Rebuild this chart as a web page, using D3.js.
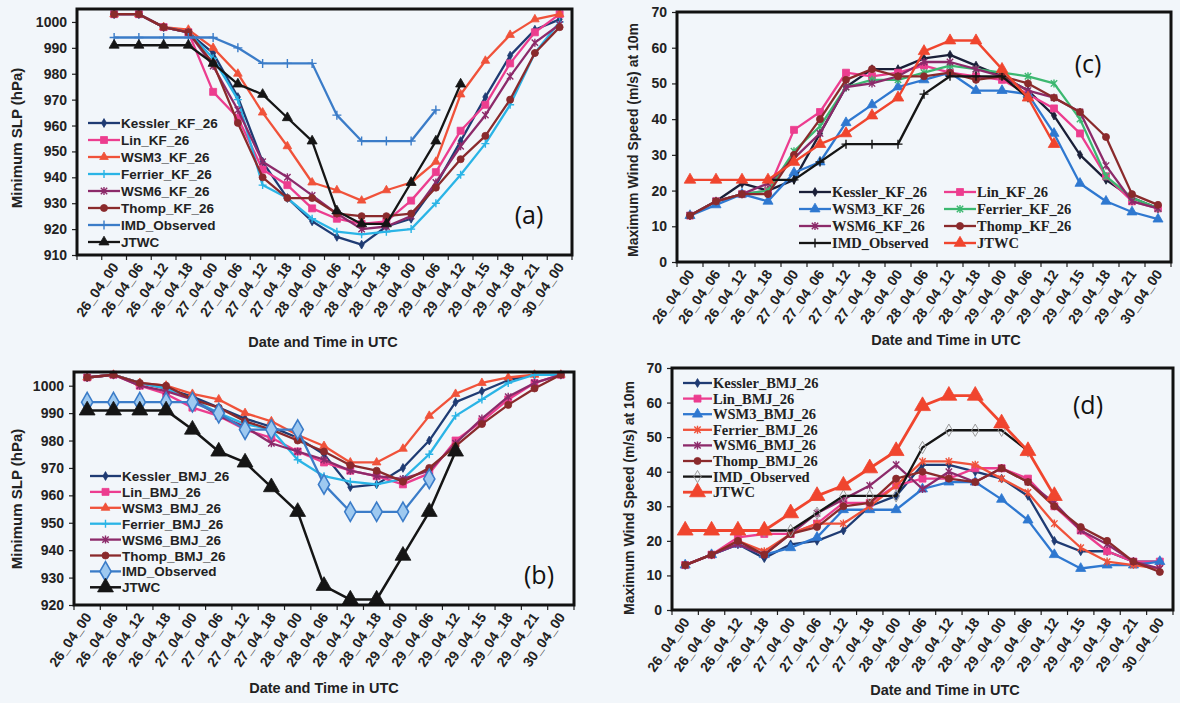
<!DOCTYPE html>
<html><head><meta charset="utf-8">
<script src="https://cdn.jsdelivr.net/npm/d3@7"></script>
<style>
html,body{margin:0;padding:0;background:#f2f6fa;}
svg{display:block;}
</style></head>
<body>
<svg id="chart" width="1180" height="703"></svg>
<script>
// ---------- categories / tick labels ----------
const timeLabels = ["26_04_00","26_04_06","26_04_12","26_04_18","27_04_00","27_04_06","27_04_12","27_04_18","28_04_00","28_04_06","28_04_12","28_04_18","29_04_00","29_04_06","29_04_12","29_04_15","29_04_18","29_04_21","30_04_00"];
const slpTicksA = [910,920,930,940,950,960,970,980,990,1000];
const slpTicksB = [920,930,940,950,960,970,980,990,1000];
const windTicks = [0,10,20,30,40,50,60,70];

// ---------- (a) Minimum SLP, KF ----------
const kesslerKF_slp = [1003,1003,998,996,988,971,946,932,923,917,914,921,924,937,954,971,987,997,1001];
const linKF_slp     = [1003,1003,998,996,973,963,943,937,928,924,922,923,931,942,958,968,984,996,1003];
const wsm3KF_slp    = [1003,1003,998,997,990,980,965,952,938,935,931,935,938,946,972,985,995,1001,1003];
const ferrierKF_slp = [1003,1003,998,996,986,970,937,932,924,919,918,919,920,930,941,953,968,988,1000];
const wsm6KF_slp    = [1003,1003,998,996,983,966,946,940,933,926,920,921,925,938,952,964,979,992,999];
const thompKF_slp   = [1003,1003,998,996,984,961,940,932,932,926,925,925,926,936,947,956,970,988,998];
// ---------- (b) Minimum SLP, BMJ ----------
const kesslerBMJ_slp = [1003,1004,1001,999,996,992,988,985,981,975,963,964,970,980,994,998,1002,1004,1004];
const linBMJ_slp     = [1003,1004,1000,997,992,989,984,981,976,972,969,967,964,968,980,987,995,1001,1004];
const wsm3BMJ_slp    = [1003,1004,1001,1000,997,995,990,987,982,978,972,972,977,989,997,1001,1003,1004,1004];
const ferrierBMJ_slp = [1003,1004,1001,999,995,990,986,984,973,967,965,964,966,975,989,995,1001,1004,1004];
const wsm6BMJ_slp    = [1003,1004,1000,998,995,989,985,979,976,973,969,967,966,969,979,988,996,1001,1004];
const thompBMJ_slp   = [1003,1004,1001,1000,995,992,987,984,980,976,971,969,965,970,978,986,993,999,1004];
// observed SLP
const imd_slp  = [994,994,994,994,994,990,984,984,984,964,954,954,954,966];
const jtwc_slp = [991,991,991,991,984,976,972,963,954,927,922,922,938,954,976];

// ---------- (c) Max wind, KF ----------
const kesslerKF_ws = [13,17,22,20,23,36,49,54,54,57,58,55,52,48,41,30,23,18,15];
const linKF_ws     = [13,17,19,20,37,42,53,52,53,55,53,52,51,47,43,36,24,17,15];
const wsm3KF_ws    = [13,16,19,17,25,28,39,44,49,51,53,48,48,47,36,22,17,14,12];
const ferrierKF_ws = [13,17,19,20,31,38,49,51,51,53,55,54,53,52,50,40,24,18,15];
const wsm6KF_ws    = [13,17,19,22,29,36,49,50,52,56,56,54,52,48,46,42,27,17,15];
const thompKF_ws   = [13,17,19,19,30,40,51,54,52,52,53,51,52,50,46,42,35,19,16];
// ---------- (d) Max wind, BMJ ----------
const kesslerBMJ_ws = [13,16,19,15,19,20,23,30,33,42,42,40,38,33,20,17,17,14,14];
const linBMJ_ws     = [13,16,21,22,22,25,31,31,36,38,38,41,41,38,30,23,17,14,14];
const wsm3BMJ_ws    = [13,16,19,16,18,21,29,29,29,35,37,37,32,26,16,12,13,13,14];
const ferrierBMJ_ws = [13,16,20,17,22,25,25,30,36,43,43,42,38,34,25,18,14,13,12];
const wsm6BMJ_ws    = [13,16,19,16,22,28,32,36,42,35,40,37,41,37,31,23,19,14,12];
const thompBMJ_ws   = [13,16,20,16,22,24,30,31,38,40,38,37,41,37,30,24,20,14,11];
// observed wind
const imd_ws  = [null,null,null,23,23,28,33,33,33,47,52,52,52,46];
const jtwc_ws = [23,23,23,23,28,33,36,41,46,59,62,62,54,46,33];

const svg = d3.select("#chart");
const SANS = "'Liberation Sans', Arial, sans-serif";
const SERIF = "'Liberation Serif', 'Times New Roman', serif";

function markerPath(type, s) {
  const h = s / 2;
  switch (type) {
    case "diamond": return d3.symbol(d3.symbolDiamond, s * s * 0.9)();
    case "square": return d3.symbol(d3.symbolSquare, s * s)();
    case "triangle": return d3.symbol(d3.symbolTriangle, s * s * 0.9)();
    case "circle": return d3.symbol(d3.symbolCircle, s * s * 0.8)();
    case "plus": return `M${-h},0H${h}M0,${-h}V${h}`;
    case "star": return `M${-h*0.8},${-h*0.8}L${h*0.8},${h*0.8}M${-h*0.8},${h*0.8}L${h*0.8},${-h*0.8}M0,${-h}V${h}`;
  }
  return "";
}
function drawMarker(g, m, cx, cy) {
  if (!m.type) return;
  const line = (m.type === "plus" || m.type === "star");
  g.append("path")
    .attr("d", markerPath(m.type, m.size))
    .attr("transform", `translate(${cx},${cy})`)
    .attr("fill", line ? "none" : (m.fill || m.color))
    .attr("stroke", m.stroke || m.color)
    .attr("stroke-width", line ? 1.4 : (m.sw || 0.8));
}

function drawPanel(p) {
  const g = svg.append("g");
  const x = d3.scaleBand().domain(p.cats).range([p.x0, p.x1]).padding(0);
  const y = d3.scaleLinear().domain(p.yDomain).range([p.y1, p.y0]);
  const bw = x.bandwidth();

  // y axis
  const ya = g.append("g").attr("transform", `translate(${p.x0},0)`)
    .call(d3.axisLeft(y).tickValues(p.yTicks).tickSize(5).tickPadding(5).tickFormat(d3.format("d")));
  ya.select(".domain").remove();
  ya.selectAll("line").attr("stroke", "#222").attr("stroke-width", 1.2);
  ya.selectAll("text").attr("font-family", SANS).attr("font-weight", "bold")
    .attr("font-size", 14).attr("fill", "#222");

  // x ticks between categories
  const nT = p.cats.length;
  for (let i = 0; i <= nT; i++) {
    const xx = x.range()[0] + i * x.step();
    g.append("line").attr("x1", xx).attr("x2", xx).attr("y1", p.y1).attr("y2", p.y1 + 5)
      .attr("stroke", "#222").attr("stroke-width", 1.2);
  }
  // x tick labels
  timeLabels.forEach(l => {
    const cx = x(l) + bw / 2;
    g.append("text").text(l)
      .attr("transform", `translate(${cx + 5},${p.y1 + 12}) rotate(-55)`)
      .attr("text-anchor", "end")
      .attr("font-family", SANS).attr("font-weight", "bold").attr("font-size", 14)
      .attr("fill", "#222");
  });

  // axis titles
  g.append("text").text(p.yTitle)
    .attr("transform", `translate(${p.yTitleX},${p.yTitleY}) rotate(-90)`)
    .attr("text-anchor", "middle")
    .attr("font-family", SANS).attr("font-weight", "bold").attr("font-size", p.yTitleSize || 15)
    .attr("fill", "#222");
  g.append("text").text("Date and Time in UTC")
    .attr("x", p.xTitleX).attr("y", p.xTitleY)
    .attr("text-anchor", "middle")
    .attr("font-family", SANS).attr("font-weight", "bold").attr("font-size", 14.5)
    .attr("fill", "#222");

  // series
  const lineGen = d3.line()
    .defined(d => d.v != null)
    .x(d => x(d.c) + bw / 2)
    .y(d => y(d.v));
  p.series.forEach(s => {
    const pts = s.values.map((v, i) => ({ c: timeLabels[i], v: v }));
    g.append("path").datum(pts).attr("d", lineGen)
      .attr("fill", "none").attr("stroke", s.color).attr("stroke-width", s.lw || 2.3)
      .attr("stroke-linejoin", "round");
    pts.filter(d => d.v != null).forEach(d => {
      drawMarker(g, s.marker, x(d.c) + bw / 2, y(d.v));
    });
  });

  // frame
  g.append("rect").attr("x", p.x0).attr("y", p.y0)
    .attr("width", p.x1 - p.x0).attr("height", p.y1 - p.y0)
    .attr("fill", "none").attr("stroke", "#111").attr("stroke-width", 3);

  // panel letter
  g.append("text").text(p.letter).attr("x", p.letterX).attr("y", p.letterY)
    .attr("text-anchor", "middle")
    .attr("font-family", "'Open Sans', 'DejaVu Sans', sans-serif").attr("font-size", 25)
    .attr("fill", "#111");

  // legend
  const L = p.legend;
  p.series.forEach((s, i) => {
    const col = L.cols ? i % L.cols : 0;
    const row = L.cols ? Math.floor(i / L.cols) : i;
    const lx = L.x + col * (L.colW || 0);
    const ly = L.y + row * L.dy;
    g.append("line").attr("x1", lx).attr("x2", lx + L.lineW).attr("y1", ly).attr("y2", ly)
      .attr("stroke", s.color).attr("stroke-width", s.lw || 2.3);
    drawMarker(g, s.marker, lx + L.lineW / 2, ly);
    g.append("text").text(s.name).attr("x", lx + L.lineW + 1).attr("y", ly + 5)
      .attr("font-family", L.font).attr("font-weight", "bold").attr("font-size", L.size)
      .attr("fill", "#222");
  });
}

const C = {
  kessler: "#1f3b73", kesslerDark: "#1a1f38", lin: "#ec3d8f", red: "#f0523a",
  cyan: "#2ab4e6", blue: "#2f78d0", green: "#3cb870", wsm6: "#8c2a6a",
  thomp: "#8a2a2c", imdBlue: "#3b7cc8", black: "#151515", jtwcRed: "#f0452e"
};

// (a)
drawPanel({
  cats: ["", ...timeLabels], x0: 77, x1: 572, y0: 9, y1: 255,
  yDomain: [910, 1005], yTicks: slpTicksA,
  yTitle: "Minimum SLP (hPa)", yTitleX: 22, yTitleY: 138,
  xTitleX: 323, xTitleY: 347, letter: "(a)", letterX: 529, letterY: 224,
  legend: { x: 88, y: 123, dy: 17, lineW: 32, font: SANS, size: 13.5 },
  series: [
    { name: "Kessler_KF_26", values: kesslerKF_slp, color: C.kessler, marker: { type: "diamond", size: 5, color: C.kessler } },
    { name: "Lin_KF_26", values: linKF_slp, color: C.lin, marker: { type: "square", size: 7, color: C.lin } },
    { name: "WSM3_KF_26", values: wsm3KF_slp, color: C.red, marker: { type: "triangle", size: 6, color: C.red } },
    { name: "Ferrier_KF_26", values: ferrierKF_slp, color: C.cyan, marker: { type: "plus", size: 8, color: C.cyan } },
    { name: "WSM6_KF_26", values: wsm6KF_slp, color: C.wsm6, marker: { type: "star", size: 8, color: C.wsm6 } },
    { name: "Thomp_KF_26", values: thompKF_slp, color: C.thomp, marker: { type: "circle", size: 7, color: C.thomp } },
    { name: "IMD_Observed", values: imd_slp, color: C.imdBlue, marker: { type: "plus", size: 9, color: C.imdBlue } },
    { name: "JTWC", values: jtwc_slp, color: C.black, marker: { type: "triangle", size: 7, color: C.black } }
  ]
});

// (b)
drawPanel({
  cats: timeLabels, x0: 74, x1: 574, y0: 372, y1: 605,
  yDomain: [920, 1005], yTicks: slpTicksB,
  yTitle: "Minimum SLP (hPa)", yTitleX: 22, yTitleY: 499,
  xTitleX: 324, xTitleY: 693, letter: "(b)", letterX: 539, letterY: 584,
  legend: { x: 90, y: 476, dy: 15.9, lineW: 31, font: SANS, size: 13.5 },
  series: [
    { name: "Kessler_BMJ_26", values: kesslerBMJ_slp, color: C.kessler, marker: { type: "diamond", size: 5, color: C.kessler } },
    { name: "Lin_BMJ_26", values: linBMJ_slp, color: C.lin, marker: { type: "square", size: 7, color: C.lin } },
    { name: "WSM3_BMJ_26", values: wsm3BMJ_slp, color: C.red, marker: { type: "triangle", size: 6, color: C.red } },
    { name: "Ferrier_BMJ_26", values: ferrierBMJ_slp, color: C.cyan, marker: { type: "plus", size: 8, color: C.cyan } },
    { name: "WSM6_BMJ_26", values: wsm6BMJ_slp, color: C.wsm6, marker: { type: "star", size: 8, color: C.wsm6 } },
    { name: "Thomp_BMJ_26", values: thompBMJ_slp, color: C.thomp, marker: { type: "circle", size: 7, color: C.thomp } },
    { name: "IMD_Observed", values: imd_slp, color: C.imdBlue, lw: 2.3, marker: { type: "diamond", size: 11, color: C.imdBlue, fill: "#9ec9f0", sw: 1.6 } },
    { name: "JTWC", values: jtwc_slp, color: C.black, lw: 2.5, marker: { type: "triangle", size: 11, color: C.black } }
  ]
});

// (c)
drawPanel({
  cats: timeLabels, x0: 677, x1: 1171, y0: 12, y1: 262,
  yDomain: [0, 70], yTicks: windTicks,
  yTitle: "Maximum Wind Speed (m/s) at 10m", yTitleX: 638, yTitleY: 140, yTitleSize: 14,
  xTitleX: 946, xTitleY: 345, letter: "(c)", letterX: 1088, letterY: 73,
  legend: { x: 799, y: 192, dy: 17, lineW: 32, cols: 2, colW: 145, font: SERIF, size: 14.5 },
  series: [
    { name: "Kessler_KF_26", values: kesslerKF_ws, color: C.kesslerDark, marker: { type: "diamond", size: 5, color: C.kesslerDark } },
    { name: "Lin_KF_26", values: linKF_ws, color: C.lin, marker: { type: "square", size: 7, color: C.lin } },
    { name: "WSM3_KF_26", values: wsm3KF_ws, color: C.blue, marker: { type: "triangle", size: 7, color: C.blue } },
    { name: "Ferrier_KF_26", values: ferrierKF_ws, color: C.green, marker: { type: "star", size: 8, color: C.green } },
    { name: "WSM6_KF_26", values: wsm6KF_ws, color: C.wsm6, marker: { type: "star", size: 8, color: C.wsm6 } },
    { name: "Thomp_KF_26", values: thompKF_ws, color: C.thomp, marker: { type: "circle", size: 7, color: C.thomp } },
    { name: "IMD_Observed", values: imd_ws, color: C.black, marker: { type: "plus", size: 9, color: C.black } },
    { name: "JTWC", values: jtwc_ws, color: C.jtwcRed, lw: 2.4, marker: { type: "triangle", size: 8, color: C.jtwcRed } }
  ]
});

// (d)
drawPanel({
  cats: timeLabels, x0: 672, x1: 1173, y0: 368, y1: 610,
  yDomain: [0, 70], yTicks: windTicks,
  yTitle: "Maximum Wind Speed (m/s) at 10m", yTitleX: 634, yTitleY: 498, yTitleSize: 14,
  xTitleX: 945, xTitleY: 695, letter: "(d)", letterX: 1088, letterY: 414,
  legend: { x: 683, y: 383, dy: 15.6, lineW: 29, font: SERIF, size: 14.5 },
  series: [
    { name: "Kessler_BMJ_26", values: kesslerBMJ_ws, color: C.kessler, marker: { type: "diamond", size: 5, color: C.kessler } },
    { name: "Lin_BMJ_26", values: linBMJ_ws, color: C.lin, marker: { type: "square", size: 7, color: C.lin } },
    { name: "WSM3_BMJ_26", values: wsm3BMJ_ws, color: C.blue, marker: { type: "triangle", size: 7, color: C.blue } },
    { name: "Ferrier_BMJ_26", values: ferrierBMJ_ws, color: C.red, marker: { type: "star", size: 8, color: C.red } },
    { name: "WSM6_BMJ_26", values: wsm6BMJ_ws, color: C.wsm6, marker: { type: "star", size: 8, color: C.wsm6 } },
    { name: "Thomp_BMJ_26", values: thompBMJ_ws, color: C.thomp, marker: { type: "circle", size: 7, color: C.thomp } },
    { name: "IMD_Observed", values: imd_ws, color: C.black, marker: { type: "diamond", size: 7, color: "#9a9a9a", fill: "none", sw: 1 } },
    { name: "JTWC", values: jtwc_ws, color: C.jtwcRed, lw: 2.8, marker: { type: "triangle", size: 11, color: C.jtwcRed } }
  ]
});
</script>
</body></html>
